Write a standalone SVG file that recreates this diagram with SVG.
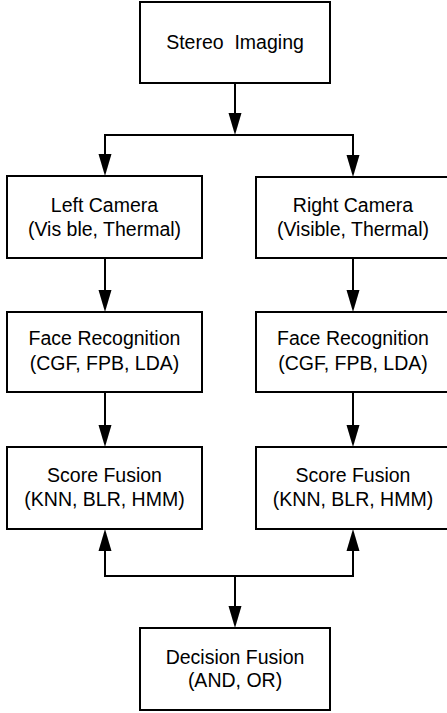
<svg xmlns="http://www.w3.org/2000/svg" width="447" height="713" viewBox="0 0 447 713">
<style>
.box{fill:#fff;stroke:#000;stroke-width:2}
.lbl{font-family:"Liberation Sans",Arial,sans-serif;font-size:19.5px;fill:#000;text-anchor:middle}
.ln{fill:none;stroke:#000;stroke-width:2}
</style>
<defs>
<marker id="ah" markerUnits="userSpaceOnUse" markerWidth="22" markerHeight="14" viewBox="0 0 22 14" refX="12" refY="7" orient="auto">
<path d="M0,0.5 L22,7 L0,13.5 z" fill="#000"/>
</marker>
</defs>
<rect width="447" height="713" fill="#fff"/>
<g id="connectors">
<line class="ln" x1="235" y1="83" x2="235" y2="125" marker-end="url(#ah)"/>
<polyline class="ln" points="105,166 105,135 353,135 353,166"/>
<line class="ln" x1="105" y1="135" x2="105" y2="166" marker-end="url(#ah)"/>
<line class="ln" x1="353" y1="135" x2="353" y2="167" marker-end="url(#ah)"/>
<line class="ln" x1="105" y1="258" x2="105" y2="302" marker-end="url(#ah)"/>
<line class="ln" x1="353" y1="258" x2="353" y2="302" marker-end="url(#ah)"/>
<line class="ln" x1="105" y1="392" x2="105" y2="437" marker-end="url(#ah)"/>
<line class="ln" x1="353" y1="392" x2="353" y2="437" marker-end="url(#ah)"/>
<polyline class="ln" points="105,539 105,576 353,576 353,539"/>
<line class="ln" x1="105" y1="576" x2="105" y2="539" marker-end="url(#ah)"/>
<line class="ln" x1="353" y1="576" x2="353" y2="539" marker-end="url(#ah)"/>
<line class="ln" x1="235" y1="576" x2="235" y2="618" marker-end="url(#ah)"/>
</g>
<g id="stereo">
<rect class="box" x="140" y="2" width="190" height="81"/>
<text class="lbl" x="235" y="49" xml:space="preserve">Stereo  Imaging</text>
</g>
<g id="left-camera">
<rect class="box" x="7" y="176" width="195" height="82"/>
<text class="lbl" x="104.5" y="212">Left Camera</text>
<text class="lbl" x="104.5" y="236">(Vis ble, Thermal)</text>
</g>
<g id="right-camera">
<rect class="box" x="256" y="177" width="194" height="81"/>
<text class="lbl" x="353" y="212">Right Camera</text>
<text class="lbl" x="353" y="236">(Visible, Thermal)</text>
</g>
<g id="left-face">
<rect class="box" x="7" y="312" width="195" height="80"/>
<text class="lbl" x="104.5" y="345">Face Recognition</text>
<text class="lbl" x="104.5" y="370">(CGF, FPB, LDA)</text>
</g>
<g id="right-face">
<rect class="box" x="256" y="312" width="194" height="80"/>
<text class="lbl" x="353" y="345">Face Recognition</text>
<text class="lbl" x="353" y="370">(CGF, FPB, LDA)</text>
</g>
<g id="left-score">
<rect class="box" x="7" y="447" width="195" height="82"/>
<text class="lbl" x="104.5" y="482">Score Fusion</text>
<text class="lbl" x="104.5" y="506">(KNN, BLR, HMM)</text>
</g>
<g id="right-score">
<rect class="box" x="256" y="447" width="194" height="82"/>
<text class="lbl" x="353" y="482">Score Fusion</text>
<text class="lbl" x="353" y="506">(KNN, BLR, HMM)</text>
</g>
<g id="decision">
<rect class="box" x="140" y="628" width="190" height="82"/>
<text class="lbl" x="235" y="664">Decision Fusion</text>
<text class="lbl" x="235" y="687">(AND, OR)</text>
</g>
</svg>
